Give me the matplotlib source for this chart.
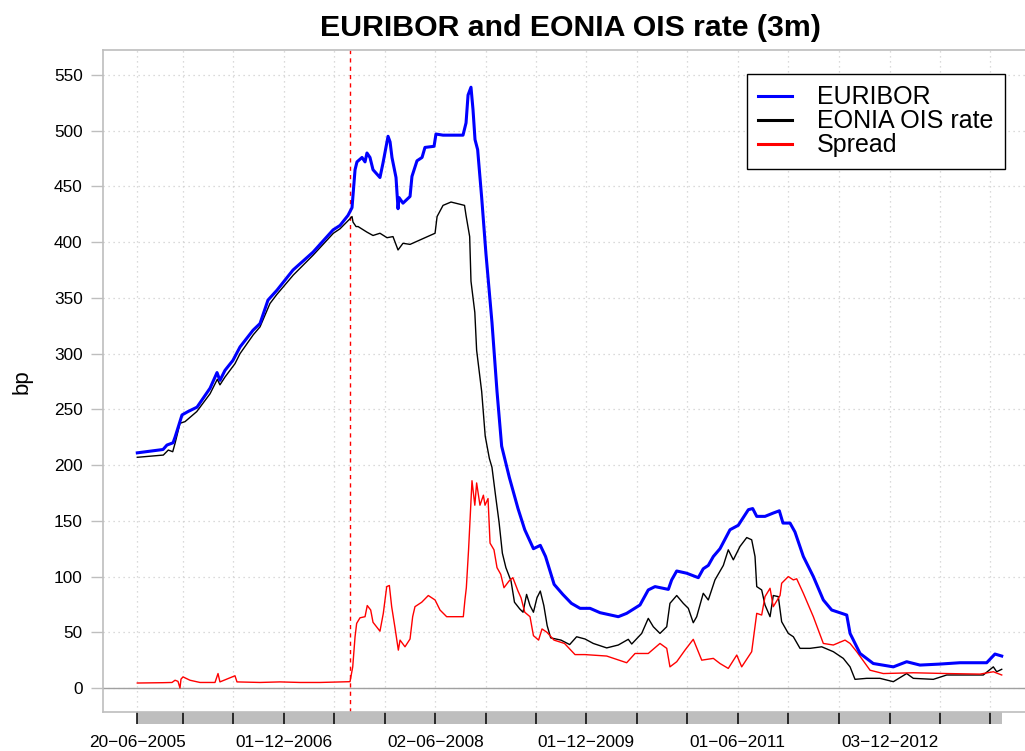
import numpy as np
import matplotlib
matplotlib.use("Agg")
import matplotlib.pyplot as plt
import matplotlib.transforms as mtransforms
from matplotlib.patches import Rectangle
from datetime import date

# ______________________________________________________________________________
# Data (bp), time in decimal years

eur_t = [2005.464, 2005.719, 2005.758, 2005.818, 2005.838, 2005.907, 2005.966, 2006.056,
         2006.185, 2006.254, 2006.283, 2006.333, 2006.412, 2006.482, 2006.611, 2006.680,
         2006.759, 2006.849, 2007.007, 2007.205, 2007.404, 2007.473, 2007.552, 2007.592,
         2007.622, 2007.641, 2007.691, 2007.721, 2007.740, 2007.770, 2007.800, 2007.869,
         2007.899, 2007.949, 2007.969, 2007.988, 2008.028, 2008.048, 2008.058, 2008.097,
         2008.167, 2008.186, 2008.236, 2008.286, 2008.315, 2008.405, 2008.424, 2008.494,
         2008.692, 2008.722, 2008.742, 2008.771, 2008.791, 2008.811, 2008.837, 2008.877,
         2008.919, 2008.979, 2009.029, 2009.075, 2009.151, 2009.237, 2009.304, 2009.390,
         2009.458, 2009.510, 2009.595, 2009.681, 2009.766, 2009.852, 2009.951, 2010.050,
         2010.231, 2010.314, 2010.446, 2010.528, 2010.595, 2010.727, 2010.760, 2010.810,
         2010.909, 2011.024, 2011.073, 2011.123, 2011.173, 2011.239, 2011.338, 2011.420,
         2011.520, 2011.563, 2011.603, 2011.685, 2011.767, 2011.827, 2011.863, 2011.933,
         2011.982, 2012.065, 2012.164, 2012.263, 2012.346, 2012.495, 2012.528, 2012.627,
         2012.758, 2012.957, 2013.089, 2013.221, 2013.419, 2013.617, 2013.882, 2013.964,
         2014.031]
eur_bp = [211, 214, 218, 220, 225, 245, 248, 252,
          269, 283, 276, 285, 294, 306, 321, 327,
          348, 357, 375, 391, 411, 415, 424, 431,
          465, 472, 476, 472, 480, 476, 465, 458,
          471, 495, 490, 476, 458, 430, 440, 435,
          441, 459, 473, 476, 485, 486, 497, 496,
          496, 507, 532, 539, 519, 492, 483, 440,
          390, 328, 266, 217, 189, 161, 142, 125,
          128, 118, 93, 84, 76, 71.5, 71.5, 67.6,
          64, 67, 74.5, 88, 91, 88.5, 97, 105,
          103, 99, 107, 110, 118, 125, 142, 146,
          160, 161, 154, 154, 157, 159, 148, 148,
          140, 118, 100, 79, 70, 65.5, 49, 31,
          22, 19, 23.6, 20.6, 21.5, 22.7, 22.7, 30.5,
          28.7]

eonia_t = [2005.464, 2005.722, 2005.771, 2005.815, 2005.838, 2005.887, 2005.937, 2006.053,
           2006.185, 2006.257, 2006.283, 2006.333, 2006.432, 2006.482, 2006.614, 2006.680,
           2006.779, 2006.846, 2007.010, 2007.208, 2007.407, 2007.473, 2007.572, 2007.592,
           2007.602, 2007.632, 2007.652, 2007.740, 2007.800, 2007.869, 2007.939, 2007.998,
           2008.048, 2008.097, 2008.167, 2008.266, 2008.365, 2008.415, 2008.435, 2008.494,
           2008.573, 2008.707, 2008.722, 2008.758, 2008.771, 2008.809, 2008.827, 2008.877,
           2008.912, 2008.953, 2008.979, 2009.014, 2009.049, 2009.082, 2009.117, 2009.168,
           2009.202, 2009.254, 2009.287, 2009.322, 2009.356, 2009.390, 2009.425, 2009.458,
           2009.493, 2009.526, 2009.561, 2009.663, 2009.749, 2009.818, 2009.901, 2009.983,
           2010.116, 2010.231, 2010.330, 2010.364, 2010.463, 2010.528, 2010.578, 2010.644,
           2010.711, 2010.743, 2010.810, 2010.875, 2010.925, 2010.974, 2011.008, 2011.073,
           2011.123, 2011.189, 2011.272, 2011.321, 2011.371, 2011.437, 2011.504, 2011.553,
           2011.586, 2011.603, 2011.652, 2011.685, 2011.735, 2011.767, 2011.817, 2011.850,
           2011.916, 2011.966, 2012.032, 2012.131, 2012.247, 2012.362, 2012.461, 2012.528,
           2012.577, 2012.693, 2012.824, 2012.957, 2013.089, 2013.155, 2013.353, 2013.486,
           2013.749, 2013.848, 2013.948, 2013.981, 2014.031]
eonia_bp = [207, 209, 213.5, 212, 219.5, 237.5, 239, 248,
            264, 277, 272, 279, 291, 300, 317, 324,
            345, 353, 370.5, 388.5, 408, 412, 421, 423,
            418, 414, 414, 409, 406, 408, 404, 405,
            393, 399, 398, 402, 406, 408, 423, 433,
            436, 433, 424, 405, 365, 337, 303, 266,
            226, 206, 198, 173, 149, 121, 108, 96,
            77, 71, 68, 84, 74, 68, 81, 87,
            74, 56, 45, 43, 39, 46, 44, 40,
            36, 38.6, 43.7, 39.5, 49, 62.5, 55, 49,
            55, 76, 83, 76, 71.5, 58.6, 64, 85,
            79, 97, 110, 124, 115, 127, 135, 133,
            118, 91, 88, 74.5, 64, 83, 82, 59.5,
            49, 46, 35.6, 35.6, 37, 32.6, 26.6, 19,
            7.8, 8.7, 8.7, 5.7, 13, 8.7, 7.8, 11.7,
            11.7, 11.7, 19, 14.6, 16.8]

spread_t = [2005.464, 2005.719, 2005.808, 2005.838, 2005.867, 2005.887, 2005.897, 2005.917,
            2005.986, 2006.085, 2006.234, 2006.264, 2006.283, 2006.432, 2006.452, 2006.680,
            2006.878, 2007.076, 2007.275, 2007.572, 2007.599, 2007.622, 2007.638, 2007.671,
            2007.721, 2007.743, 2007.777, 2007.800, 2007.869, 2007.902, 2007.936, 2007.962,
            2007.985, 2008.018, 2008.051, 2008.068, 2008.117, 2008.167, 2008.193, 2008.216,
            2008.283, 2008.348, 2008.415, 2008.464, 2008.530, 2008.613, 2008.695, 2008.711,
            2008.725, 2008.747, 2008.781, 2008.809, 2008.827, 2008.860, 2008.894, 2008.910,
            2008.940, 2008.960, 2008.999, 2009.029, 2009.066, 2009.098, 2009.148, 2009.186,
            2009.237, 2009.267, 2009.304, 2009.356, 2009.390, 2009.441, 2009.475, 2009.524,
            2009.594, 2009.698, 2009.802, 2009.901, 2010.116, 2010.314, 2010.397, 2010.528,
            2010.644, 2010.711, 2010.743, 2010.810, 2010.892, 2010.974, 2011.058, 2011.173,
            2011.239, 2011.321, 2011.405, 2011.454, 2011.553, 2011.603, 2011.652, 2011.685,
            2011.735, 2011.767, 2011.834, 2011.850, 2011.916, 2011.966, 2011.999, 2012.065,
            2012.164, 2012.263, 2012.362, 2012.478, 2012.528, 2012.594, 2012.726, 2012.857,
            2013.155, 2013.486, 2013.816, 2013.948, 2014.031]
spread_bp = [4.5, 4.8, 5, 7, 6, 0, 8, 10,
             7, 5, 5, 13, 5.5, 11, 5.5, 5,
             5.5, 5, 5, 5.7, 19, 46, 58, 63,
             64, 74, 70, 59, 51, 67, 91, 92,
             73, 54, 34, 43, 37, 44, 64, 73,
             77, 83, 79, 70, 64, 64, 64, 79,
             90, 124, 186, 164, 184, 164, 173, 164,
             170, 130, 124, 108, 102, 90, 96, 99,
             87, 81, 68, 64, 47, 43, 53, 50,
             43, 40, 30, 30, 28.7, 22.7, 31, 31,
             40, 35.6, 19, 23.6, 34, 43.7, 25, 26.6,
             22, 17.6, 29.6, 19, 32.6, 67, 65.5, 82,
             89.5, 73, 83, 94, 100, 97, 98, 85,
             64, 40, 38.6, 43, 40, 32.6, 16, 13,
             13.7, 13, 12.5, 14.6, 11.7]

crisis_t = 2007.575

tick_dates = ["2005-06-20", "2005-12-01", "2006-06-01", "2006-12-01", "2007-06-01",
              "2007-12-03", "2008-06-02", "2008-12-01", "2009-06-01", "2009-12-01",
              "2010-06-01", "2010-12-01", "2011-06-01", "2011-12-01", "2012-06-01",
              "2012-12-03", "2013-06-03", "2013-12-02"]
label_dates = ["2005-06-20", "2006-12-01", "2008-06-02", "2009-12-01", "2011-06-01",
               "2012-12-03"]


def decimal_year(s):
    d = date.fromisoformat(s)
    start = date(d.year, 1, 1)
    ndays = (date(d.year + 1, 1, 1) - start).days
    return d.year + (d - start).days / ndays


tick_t = [decimal_year(s) for s in tick_dates]
tick_lab = []
for s in tick_dates:
    if s in label_dates:
        y, m, dd = s.split("-")
        tick_lab.append("\u2212".join([dd, m, y]))
    else:
        tick_lab.append("")

# ______________________________________________________________________________
# RCParams

plt.rcParams['font.family'] = ['Liberation Sans', 'DejaVu Sans']
plt.rcParams['figure.facecolor'] = 'w'

fig = plt.figure(figsize=(10.25, 7.51), dpi=100)
ax = fig.add_axes([103/1025, 1 - 712/751, (1030 - 103)/1025, (712 - 50)/751])

# keep same data scale as the visible part (right edge beyond the canvas)
ax.set_xlim(2005.124, 2005.124 + (1030 - 103)/100.9)
ax.set_ylim(-21.5, 572.4)

ax.set_axisbelow(True)
ax.grid(True, color='#cfcfcf', linestyle=(0, (1, 3)), lw=0.9)
ax.axhline(0, color='#a0a0a0', lw=1.0, zorder=1)

ax.plot(eonia_t, eonia_bp, color='black', lw=1.0, label='EONIA OIS rate', zorder=3)
ax.plot(spread_t, spread_bp, color='red', lw=1.0, label='Spread', zorder=3)
ax.plot(eur_t, eur_bp, color='blue', lw=2.2, label='EURIBOR', zorder=4)
ax.axvline(crisis_t, color='red', ls=(0, (3, 3)), lw=1.0, zorder=2)

for s in ax.spines.values():
    s.set_color('#bebebe')
    s.set_linewidth(1.2)
ax.spines['right'].set_visible(False)

# gray bar under the axis
trans = mtransforms.blended_transform_factory(ax.transData, ax.transAxes)
ax.add_patch(Rectangle((eur_t[0], -0.0181), eur_t[-1] - eur_t[0], 0.0181,
                       transform=trans, clip_on=False, facecolor='#bebebe',
                       edgecolor='none', zorder=0.2))

ax.set_xticks(tick_t)
ax.set_xticklabels(tick_lab)
ax.tick_params(axis='x', length=8.6, width=1.1, color='black', direction='out',
               pad=8, labelsize=12.4)
ax.set_yticks(np.arange(0, 551, 50))
ax.tick_params(axis='y', length=8.6, width=1.0, color='#bebebe', direction='out',
               pad=6, labelsize=12.4)

h, l = ax.get_legend_handles_labels()
order = [2, 0, 1]
leg = ax.legend([h[i] for i in order], [l[i] for i in order],
                loc='upper left', bbox_to_anchor=((747 - 103)/927, (712 - 74)/662),
                borderaxespad=0, fontsize=18, handlelength=1.36, handletextpad=1.0,
                labelspacing=0.0, borderpad=0.45, fancybox=False, framealpha=1,
                edgecolor='black')
leg.get_frame().set_linewidth(1.0)
for line in leg.get_lines():
    line.set_linewidth(2.2)

fig.text(570/1025, 1 - 28/751, "EURIBOR and EONIA OIS rate (3m)", ha='center',
         va='center', fontsize=21.8, fontweight='bold')
fig.text(22/1025, 1 - 382/751, "bp", ha='center', va='center', rotation=90,
         fontsize=16)

fig.savefig("out.png", dpi=100)
